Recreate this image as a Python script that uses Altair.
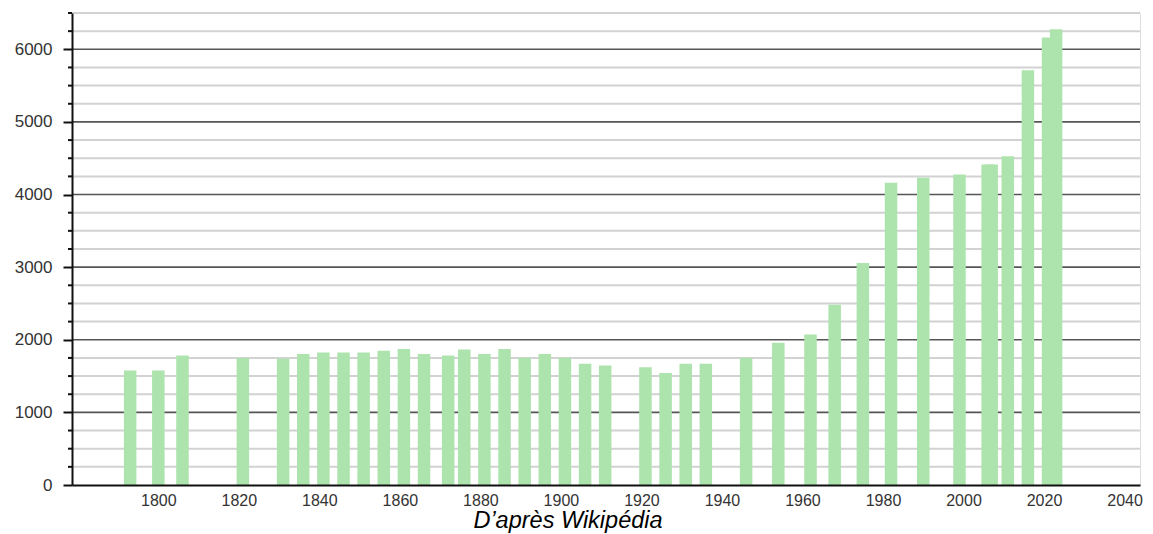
import altair as alt
import pandas as pd

years = [1793, 1800, 1806, 1821, 1831, 1836, 1841, 1846, 1851, 1856, 1861, 1866,
         1872, 1876, 1881, 1886, 1891, 1896, 1901, 1906, 1911, 1921, 1926, 1931,
         1936, 1946, 1954, 1962, 1968, 1975, 1982, 1990, 1999, 2006, 2007, 2011,
         2016, 2021, 2023]
population = [1577, 1577, 1783, 1748, 1738, 1803, 1825, 1825, 1825, 1848, 1872, 1803,
              1783, 1866, 1803, 1872, 1752, 1803, 1752, 1669, 1646, 1623, 1541, 1669,
              1669, 1752, 1959, 2073, 2483, 3058, 4161, 4230, 4276, 4414, 4414, 4528,
              5710, 6161, 6276]
x_ticks = [1800, 1820, 1840, 1860, 1880, 1900, 1920, 1940, 1960, 1980, 2000, 2020, 2040]
y_major = [0, 1000, 2000, 3000, 4000, 5000, 6000]
y_minor = [v for v in range(250, 6501, 250) if v % 1000 != 0]
caption = "D’après Wikipédia"

W, H = 1068, 472
FONT = "Liberation Sans"

bars_df = pd.DataFrame({"year": years, "pop": population})
minor_df = pd.DataFrame({"v": y_minor})
major_df = pd.DataFrame({"v": [v for v in y_major if v > 0]})

xscale = alt.Scale(domain=[1779.8, 2042.6], nice=False, zero=False)
yscale = alt.Scale(domain=[0, 6500], nice=False)

yaxis = alt.Axis(values=y_major, format="d", tickSize=9, tickWidth=2,
                 tickColor="#111111", labelPadding=11,
                 domainColor="#111111", domainWidth=2, grid=False,
                 labelFont=FONT, labelFontSize=17, labelColor="#333333",
                 zindex=1)

minor_grid = alt.Chart(minor_df).mark_rule(color="#d2d2d2", strokeWidth=2).encode(
    y=alt.Y("v:Q", scale=yscale, axis=yaxis, title=None),
    x=alt.value(0), x2=alt.value(W),
)
major_grid = alt.Chart(major_df).mark_rule(color="#555555", strokeWidth=1.6).encode(
    y=alt.Y("v:Q", scale=yscale, axis=yaxis, title=None),
    x=alt.value(0), x2=alt.value(W),
)
minor_ticks = alt.Chart(minor_df).mark_rule(color="#111111", strokeWidth=2).encode(
    y=alt.Y("v:Q", scale=yscale, axis=yaxis, title=None),
    x=alt.value(-4), x2=alt.value(0),
)

bars = alt.Chart(bars_df).mark_bar(size=12.5, color="#ade3ac").encode(
    x=alt.X("year:Q", scale=xscale, title=None,
            axis=alt.Axis(values=x_ticks, format="d", tickSize=0, labelPadding=7,
                          domainColor="#111111", domainWidth=2, grid=False,
                          labelFont=FONT, labelFontSize=16, labelColor="#333333",
                          zindex=1)),
    y=alt.Y("pop:Q", scale=yscale, title=None, axis=yaxis),
)

cap = alt.Chart(pd.DataFrame({"t": [caption]})).mark_text(
    font=FONT, fontSize=23.5, fontStyle="italic", color="#000000",
    align="center", baseline="middle",
).encode(text="t:N", x=alt.value(496), y=alt.value(508))

chart = alt.layer(minor_grid, major_grid, bars, minor_ticks, cap).properties(
    width=W, height=H,
    autosize=alt.AutoSizeParams(type="none"),
    padding={"left": 72, "top": 13, "right": 13, "bottom": 49},
).configure_view(stroke=None).configure(background="white").configure_axisY(
    labelFontSize=17, labelFont=FONT
).configure_axisX(labelFontSize=16, labelFont=FONT)

chart.save("out.html", embed_options={"renderer": "svg", "actions": False})
